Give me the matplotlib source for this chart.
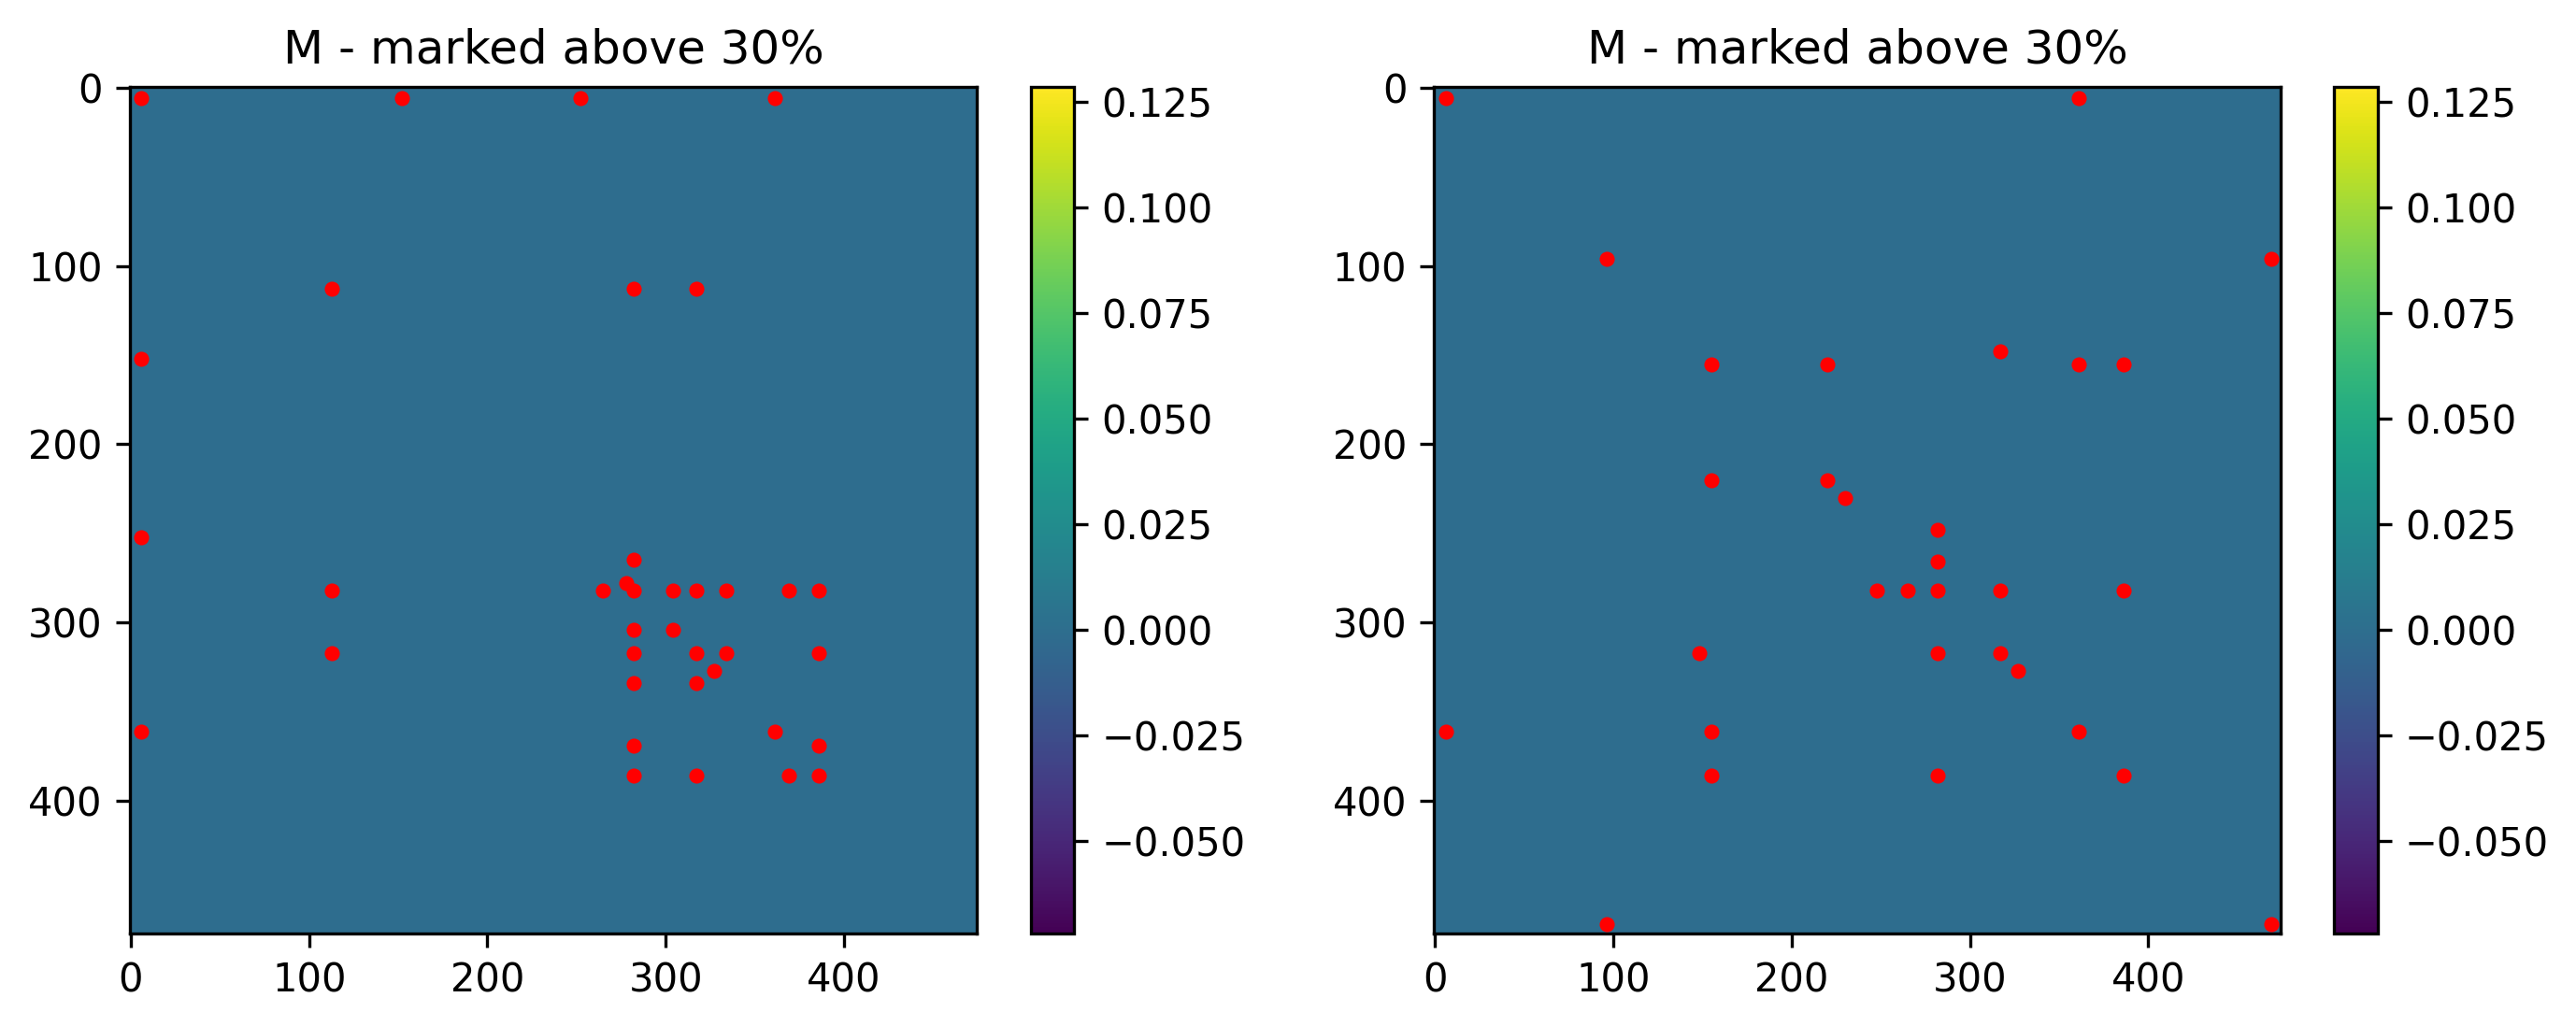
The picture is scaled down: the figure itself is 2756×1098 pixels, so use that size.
import matplotlib
matplotlib.use("Agg")
import matplotlib.pyplot as plt
import numpy as np

# matrix size and colour range
n = 475
cbar_min = -0.072
cbar_max = 0.1286
threshold = 0.30

# entries above 30% of max, left matrix (column, row)
left_cols = [6, 152, 252, 361, 6, 6, 6, 113, 282, 317, 113, 113,
             282, 265, 278, 282, 304, 317, 334, 369, 386,
             282, 304, 282, 317, 334, 386, 327, 282, 317, 361,
             282, 386, 282, 317, 369, 386]
left_rows = [6, 6, 6, 6, 152, 252, 361, 113, 113, 113, 282, 317,
             265, 282, 278, 282, 282, 282, 282, 282, 282,
             304, 304, 317, 317, 317, 317, 327, 334, 334, 361,
             369, 369, 386, 386, 386, 386]

# entries above 30% of max, right matrix (column, row)
right_cols = [6, 361, 96, 469, 317, 155, 220, 361, 386, 155, 220, 230,
              282, 282, 248, 265, 282, 317, 386, 148, 282, 317, 327,
              6, 155, 361, 155, 282, 386, 96, 469]
right_rows = [6, 6, 96, 96, 148, 155, 155, 155, 155, 220, 220, 230,
              248, 266, 282, 282, 282, 282, 282, 317, 317, 317, 327,
              361, 361, 361, 386, 386, 386, 469, 469]


def build_matrix(cols, rows):
    M = np.zeros((n, n))
    M[rows, cols] = cbar_max
    return M


W, H = 2756, 1098
fig = plt.figure(figsize=(W / 300, H / 300), dpi=300)

panels = [
    (build_matrix(left_cols, left_rows), 139, 1102.7),
    (build_matrix(right_cols, right_rows), 1534.5, 2497.3),
]

for M, ax_x, cb_x in panels:
    ax = fig.add_axes([ax_x / W, 99 / H, 906 / W, 906 / H])
    cax = fig.add_axes([cb_x / W, 99 / H, 46.5 / W, 906 / H])
    im = ax.imshow(M, cmap="viridis", vmin=cbar_min, vmax=cbar_max,
                   interpolation="nearest")
    r, c = np.nonzero(M > threshold * M.max())
    ax.scatter(c, r, s=15, color="red", linewidths=0, zorder=3)
    ax.set_xlim(-0.5, n - 0.5)
    ax.set_ylim(n - 0.5, -0.5)
    ax.set_title("M - marked above 30%")
    fig.colorbar(im, cax=cax)

fig.savefig("out.png", dpi=300)
